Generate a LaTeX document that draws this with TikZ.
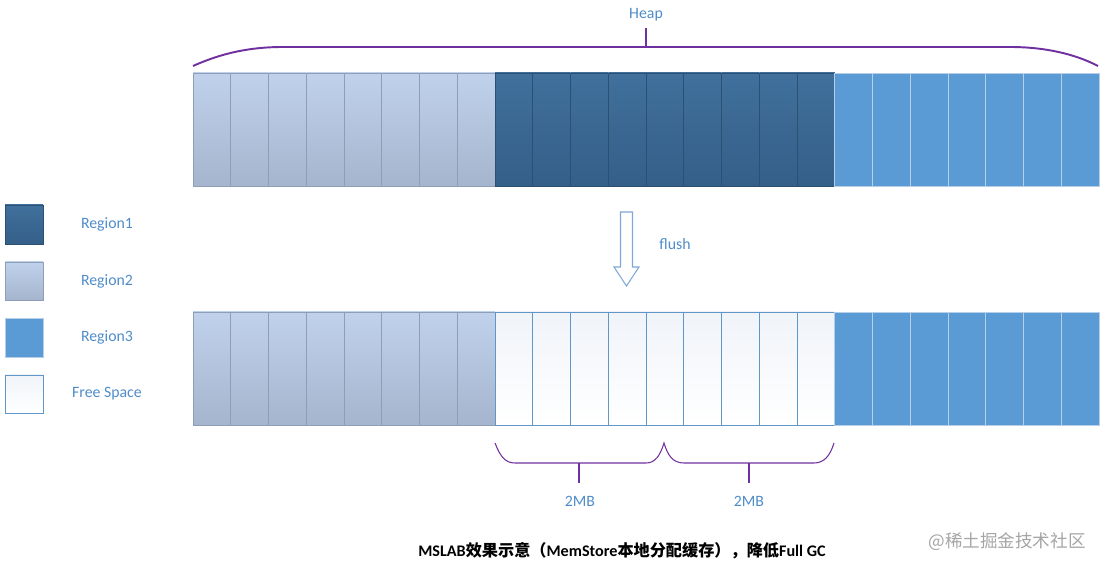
\documentclass[tikz,border=0pt]{standalone}
\usepackage{fontspec}
\setmainfont{Carlito}
\newfontfamily\cjk{Noto Sans CJK SC}
\usetikzlibrary{positioning}
\definecolor{labelblue}{RGB}{79,140,201}
\definecolor{bracepurple}{RGB}{112,48,160}
\definecolor{arrowblue}{RGB}{127,168,214}
\tikzset{
    regone/.style={top color={rgb,255:red,64;green,112;blue,156}, bottom color={rgb,255:red,52;green,95;blue,136}, draw={rgb,255:red,44;green,80;blue,115}, line width=0.5pt},
    regtwo/.style={top color={rgb,255:red,192;green,209;blue,235}, middle color={rgb,255:red,170;green,186;blue,210}, bottom color={rgb,255:red,165;green,181;blue,206}, draw={rgb,255:red,142;green,158;blue,182}, line width=0.5pt},
    regthree/.style={fill={rgb,255:red,91;green,155;blue,213}, draw={rgb,255:red,182;green,206;blue,230}, line width=0.5pt},
    freecell/.style={top color={rgb,255:red,240;green,244;blue,249}, bottom color=white, draw={rgb,255:red,96;green,150;blue,200}, line width=0.5pt},
    lbl/.style={text=labelblue, font=\fontsize{9}{11}\selectfont},
    heapbrace/.style={draw=bracepurple, line width=1.1pt},
    sizebrace/.style={draw=bracepurple, line width=0.6pt},
}
\newcommand\zh[1]{{\cjk\bfseries #1}}

\begin{document}
\begin{tikzpicture}[x=0.02cm, y=-0.02cm]
\useasboundingbox (0,0) rectangle (1105,570);

% heap before flush
\foreach \i in {0,...,7}
    \shade[regtwo] ({193+\i*37.75},73) rectangle ++(37.75,113);
\foreach \i in {8,...,16}
    \shade[regone] ({193+\i*37.75},73) rectangle ++(37.75,113);
\foreach \i in {17,...,23}
    \draw[regthree] ({193+\i*37.75},73) rectangle ++(37.75,113);

% heap after flush
\foreach \i in {0,...,7}
    \shade[regtwo] ({193+\i*37.75},312) rectangle ++(37.75,113);
\foreach \i in {8,...,16}
    \shade[freecell] ({193+\i*37.75},312) rectangle ++(37.75,113);
\foreach \i in {17,...,23}
    \draw[regthree] ({193+\i*37.75},312) rectangle ++(37.75,113);

% legend
\shade[regone] (5,205) rectangle (43,244);
\shade[regtwo] (5,262) rectangle (43,300);
\draw[regthree] (5,318) rectangle (43,357);
\shade[freecell] (5,375) rectangle (43,413);
\node[lbl] (leg1) at (107,224) {Region1};
\node[lbl] (leg2) at (107,281) {Region2};
\node[lbl] (leg3) at (107,337) {Region3};
\node[lbl] (leg4) at (107,394) {Free Space};

% heap brace
\node[lbl] (heap) at (646,15) {Heap};
\coordinate (heaptip) at (646,28);
\draw[heapbrace] (193,66) .. controls (222,53) and (250,47) .. (283,47) -- (1010,47) .. controls (1045,47) and (1075,54) .. (1098,66);
\draw[heapbrace] (646,47) -- (heaptip);

% flush arrow
\draw[draw=arrowblue, fill=white, line width=0.6pt] (620.5,212) -- (632.5,212) -- (632.5,267) -- (639,267) -- (626.5,286) -- (614,267) -- (620.5,267) -- cycle;
\node[lbl] (flush) at (675,244) {flush};

% 2MB braces
\draw[sizebrace] (495,443) .. controls (500,456) and (505,463) .. (515,463) -- (646,463) .. controls (655,463) and (660,456) .. (664,443) .. controls (668,456) and (673,463) .. (684,463) -- (814,463) .. controls (824,463) and (830,456) .. (834,443);
\node[lbl] (mbone) at (580,501) {2MB};
\node[lbl] (mbtwo) at (749,501) {2MB};
\coordinate (tickone) at (579,483);
\coordinate (ticktwo) at (749,483);
\draw[sizebrace] (579,463) -- (tickone);
\draw[sizebrace] (749,463) -- (ticktwo);

% caption
\node[font=\fontsize{9.2}{11}\selectfont\bfseries, inner sep=0pt] (caption) at (622,551)
    {MSLAB\zh{效果示意（}MemStore\zh{本地分配缓存），降低}Full GC};
\node[text={rgb,255:red,165;green,165;blue,165}, font=\cjk\fontsize{10}{12}\selectfont, inner sep=0pt] (mark) at (1007,542) {@稀土掘金技术社区};
\end{tikzpicture}
\end{document}
